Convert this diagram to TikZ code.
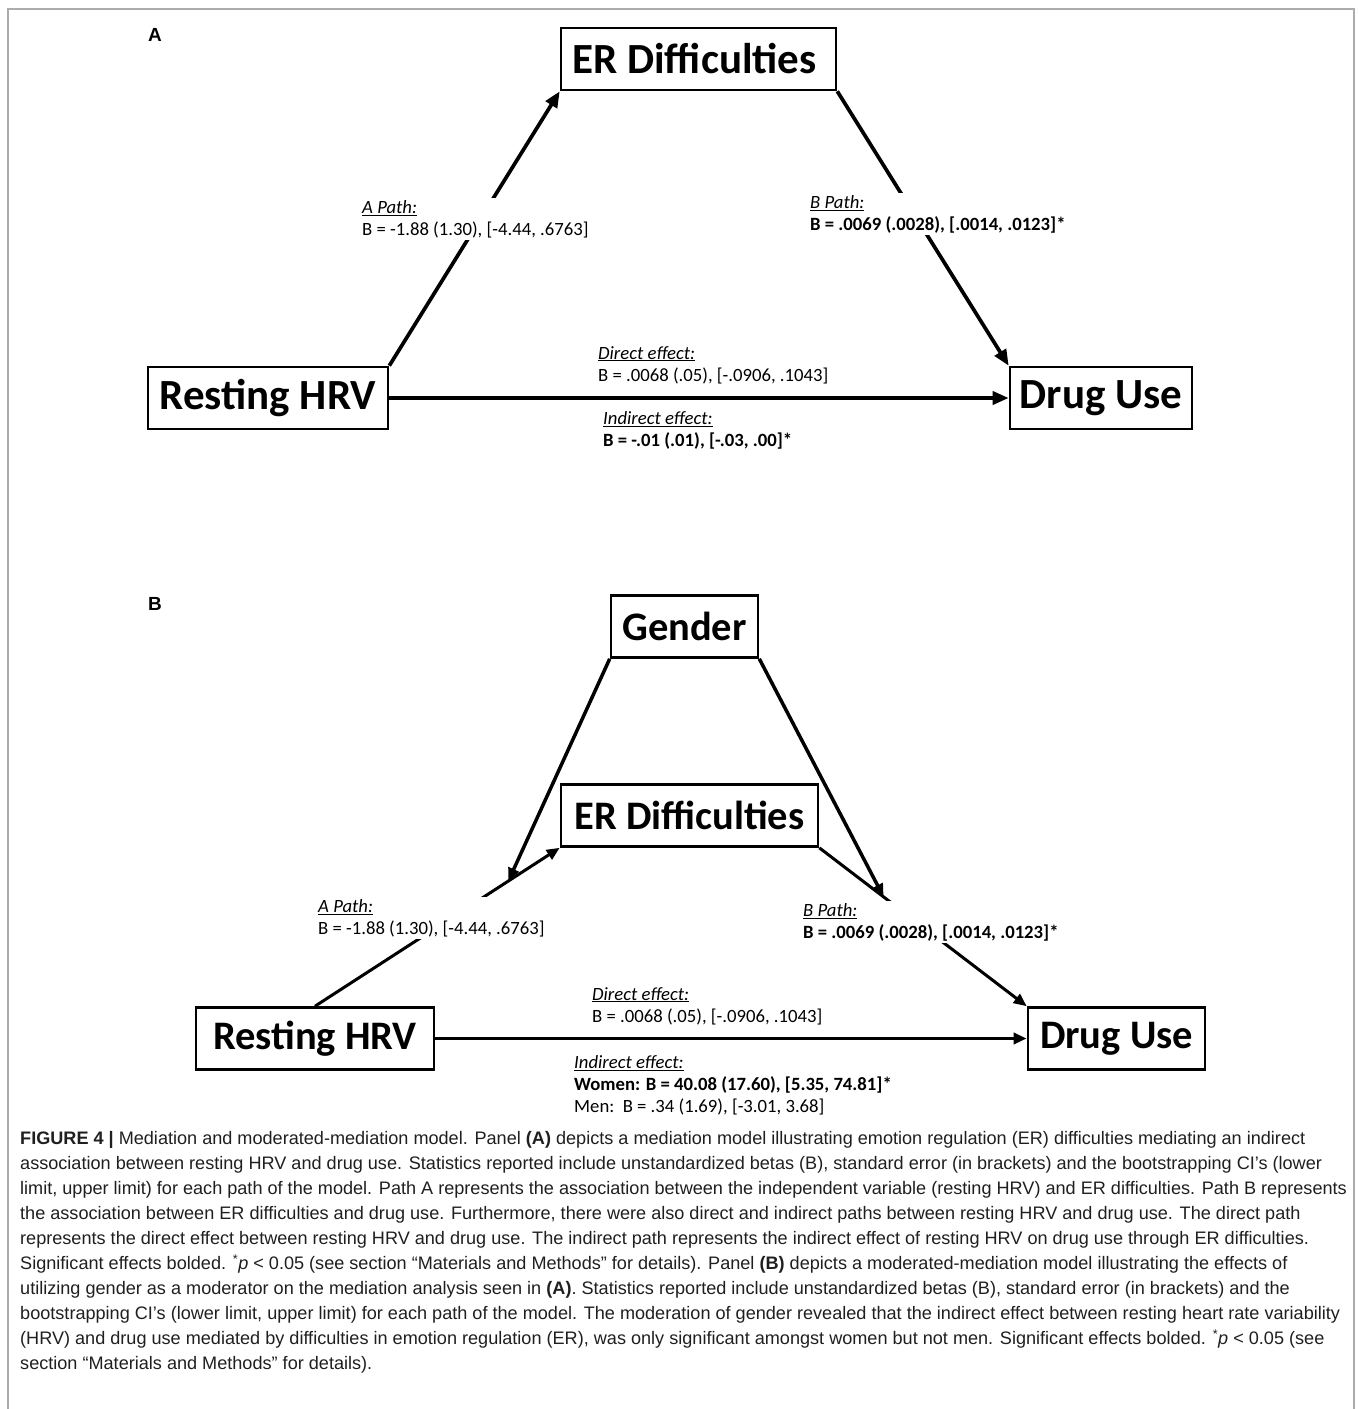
\documentclass[tikz,border=0pt]{standalone}
\usepackage{fontspec}
\setmainfont{Liberation Sans}
\newfontfamily\calfont{Carlito}
\usepackage{tikz}
\usetikzlibrary{arrows.meta,calc}
\newcommand{\bigfontA}{\calfont\fontsize{43}{48}\selectfont\bfseries}
\newcommand{\bigfontB}{\calfont\fontsize{40.5}{46}\selectfont\bfseries}
\newcommand{\labfont}{\calfont\fontsize{18.7}{22}\selectfont}
\newcommand{\capfont}{\fontsize{18.1}{25}\selectfont}
\newcommand{\panelfont}{\fontsize{19}{21}\selectfont\bfseries}
\newcommand{\pathhead}[1]{\underline{\itshape #1}}
\newcommand{\sigp}{\textsuperscript{*}\textit{p} {\textless} 0.05}

\begin{document}
\begin{tikzpicture}[x=1pt,y=1pt,
    vbox/.style={draw=black,line width=2.6pt,shape=rectangle,inner sep=0pt,
                 minimum height=62pt,text=black},
    flow/.style={-{Triangle[length=16pt,width=13pt]},line width=3.7pt,draw=black},
    flowb/.style={-{Triangle[length=13pt,width=11pt]},line width=3pt,draw=black},
    plab/.style={anchor=north west,align=left,fill=white,inner sep=2pt,font=\labfont},
    panel/.style={inner sep=0pt,font=\panelfont}]

\useasboundingbox (0,0) rectangle (1358,-1409);

% ======================= outer frame ==================================================
\draw[gray!65,line width=1.5pt] (8,-1409) -- (8,-9) -- (1354,-9) -- (1354,-1409);

% ======================= panel A: mediation ===========================================
\node[panel] (labA) at (155,-35) {A};
\node[vbox,minimum width=275pt,font=\bigfontA] (erA)   at (698.5,-59) {ER Difficulties\hspace*{8pt}};
\node[vbox,minimum width=240pt,font=\bigfontA] (hrvA)  at (268,-398)  {Resting HRV};
\node[vbox,minimum width=182pt,font=\bigfontA] (drugA) at (1101,-398) {Drug Use};

\draw[flow] (hrvA.north east) -- (erA.south west);
\draw[flow] (erA.south east)  -- (drugA.north west);
\draw[flow] (hrvA.east)       -- (drugA.west);

\node[plab] (aLabA)   at (360,-198) {\pathhead{A Path:}\\B = -1.88 (1.30), [-4.44, .6763]};
\node[plab] (bLabA)   at (808,-193) {\pathhead{B Path:}\\\textbf{B = .0069 (.0028), [.0014, .0123]*}};
\node[plab] (dirLabA) at (596,-344) {\pathhead{Direct effect:}\\B = .0068 (.05), [-.0906, .1043]};
\node[plab] (indLabA) at (601,-409) {\pathhead{Indirect effect:}\\\textbf{B = -.01 (.01), [-.03, .00]*}};

% ======================= panel B: moderated mediation =================================
\node[panel] (labB) at (155,-604) {B};
\node[vbox,minimum width=147pt,font=\bigfontB] (gender) at (684.5,-626.5)  {Gender};
\node[vbox,minimum width=257pt,font=\bigfontB] (erB)    at (689.5,-815.5)  {ER Difficulties};
\node[vbox,minimum width=238pt,font=\bigfontB] (hrvB)   at (315,-1038.5)   {Resting HRV};
\node[vbox,minimum width=177pt,font=\bigfontB] (drugB)  at (1116.5,-1038.5){Drug Use};

\draw[flowb] (hrvB.north)    -- (erB.south west);
\draw[flowb] (erB.south east) -- (drugB.north west);
\draw[flowb,line width=3.5pt] (hrvB.east) -- (drugB.west);

\coordinate (modA) at ($(hrvB.north)!0.79!(erB.south west)$);
\coordinate (modB) at ($(erB.south east)!0.31!(drugB.north west)$);

\node[plab] (aLabB)   at (316,-897)  {\pathhead{A Path:}\\B = -1.88 (1.30), [-4.44, .6763]};
\node[plab] (bLabB)   at (801,-901)  {\pathhead{B Path:}\\\textbf{B = .0069 (.0028), [.0014, .0123]*}};
\node[plab] (dirLabB) at (590,-985)  {\pathhead{Direct effect:}\\B = .0068 (.05), [-.0906, .1043]};
\node[plab] (indLabB) at (572,-1053) {\pathhead{Indirect effect:}\\\textbf{Women: B = 40.08 (17.60), [5.35, 74.81]*}\\Men:\ \ B = .34 (1.69), [-3.01, 3.68]};

\draw[flowb,line width=3.5pt] (gender.south west) -- (modA);
\draw[flowb,line width=3.5pt] (gender.south east) -- (modB);

% ======================= caption ======================================================
\node[anchor=north west,align=left,inner sep=0pt,font=\capfont,text=black!88] (caption) at (20,-1131) {%
\textbf{FIGURE 4 |} Mediation and moderated-mediation model. Panel \textbf{(A)} depicts a mediation model illustrating emotion regulation (ER) difficulties mediating an indirect\\
association between resting HRV and drug use. Statistics reported include unstandardized betas (B), standard error (in brackets) and the bootstrapping CI’s (lower\\
limit, upper limit) for each path of the model. Path A represents the association between the independent variable (resting HRV) and ER difficulties. Path B represents\\
the association between ER difficulties and drug use. Furthermore, there were also direct and indirect paths between resting HRV and drug use. The direct path\\
represents the direct effect between resting HRV and drug use. The indirect path represents the indirect effect of resting HRV on drug use through ER difficulties.\\
Significant effects bolded. \sigp{} (see section “Materials and Methods” for details). Panel \textbf{(B)} depicts a moderated-mediation model illustrating the effects of\\
utilizing gender as a moderator on the mediation analysis seen in \textbf{(A)}. Statistics reported include unstandardized betas (B), standard error (in brackets) and the\\
bootstrapping CI’s (lower limit, upper limit) for each path of the model. The moderation of gender revealed that the indirect effect between resting heart rate variability\\
(HRV) and drug use mediated by difficulties in emotion regulation (ER), was only significant amongst women but not men. Significant effects bolded. \sigp{} (see\\
section “Materials and Methods” for details).};

\end{tikzpicture}
\end{document}
